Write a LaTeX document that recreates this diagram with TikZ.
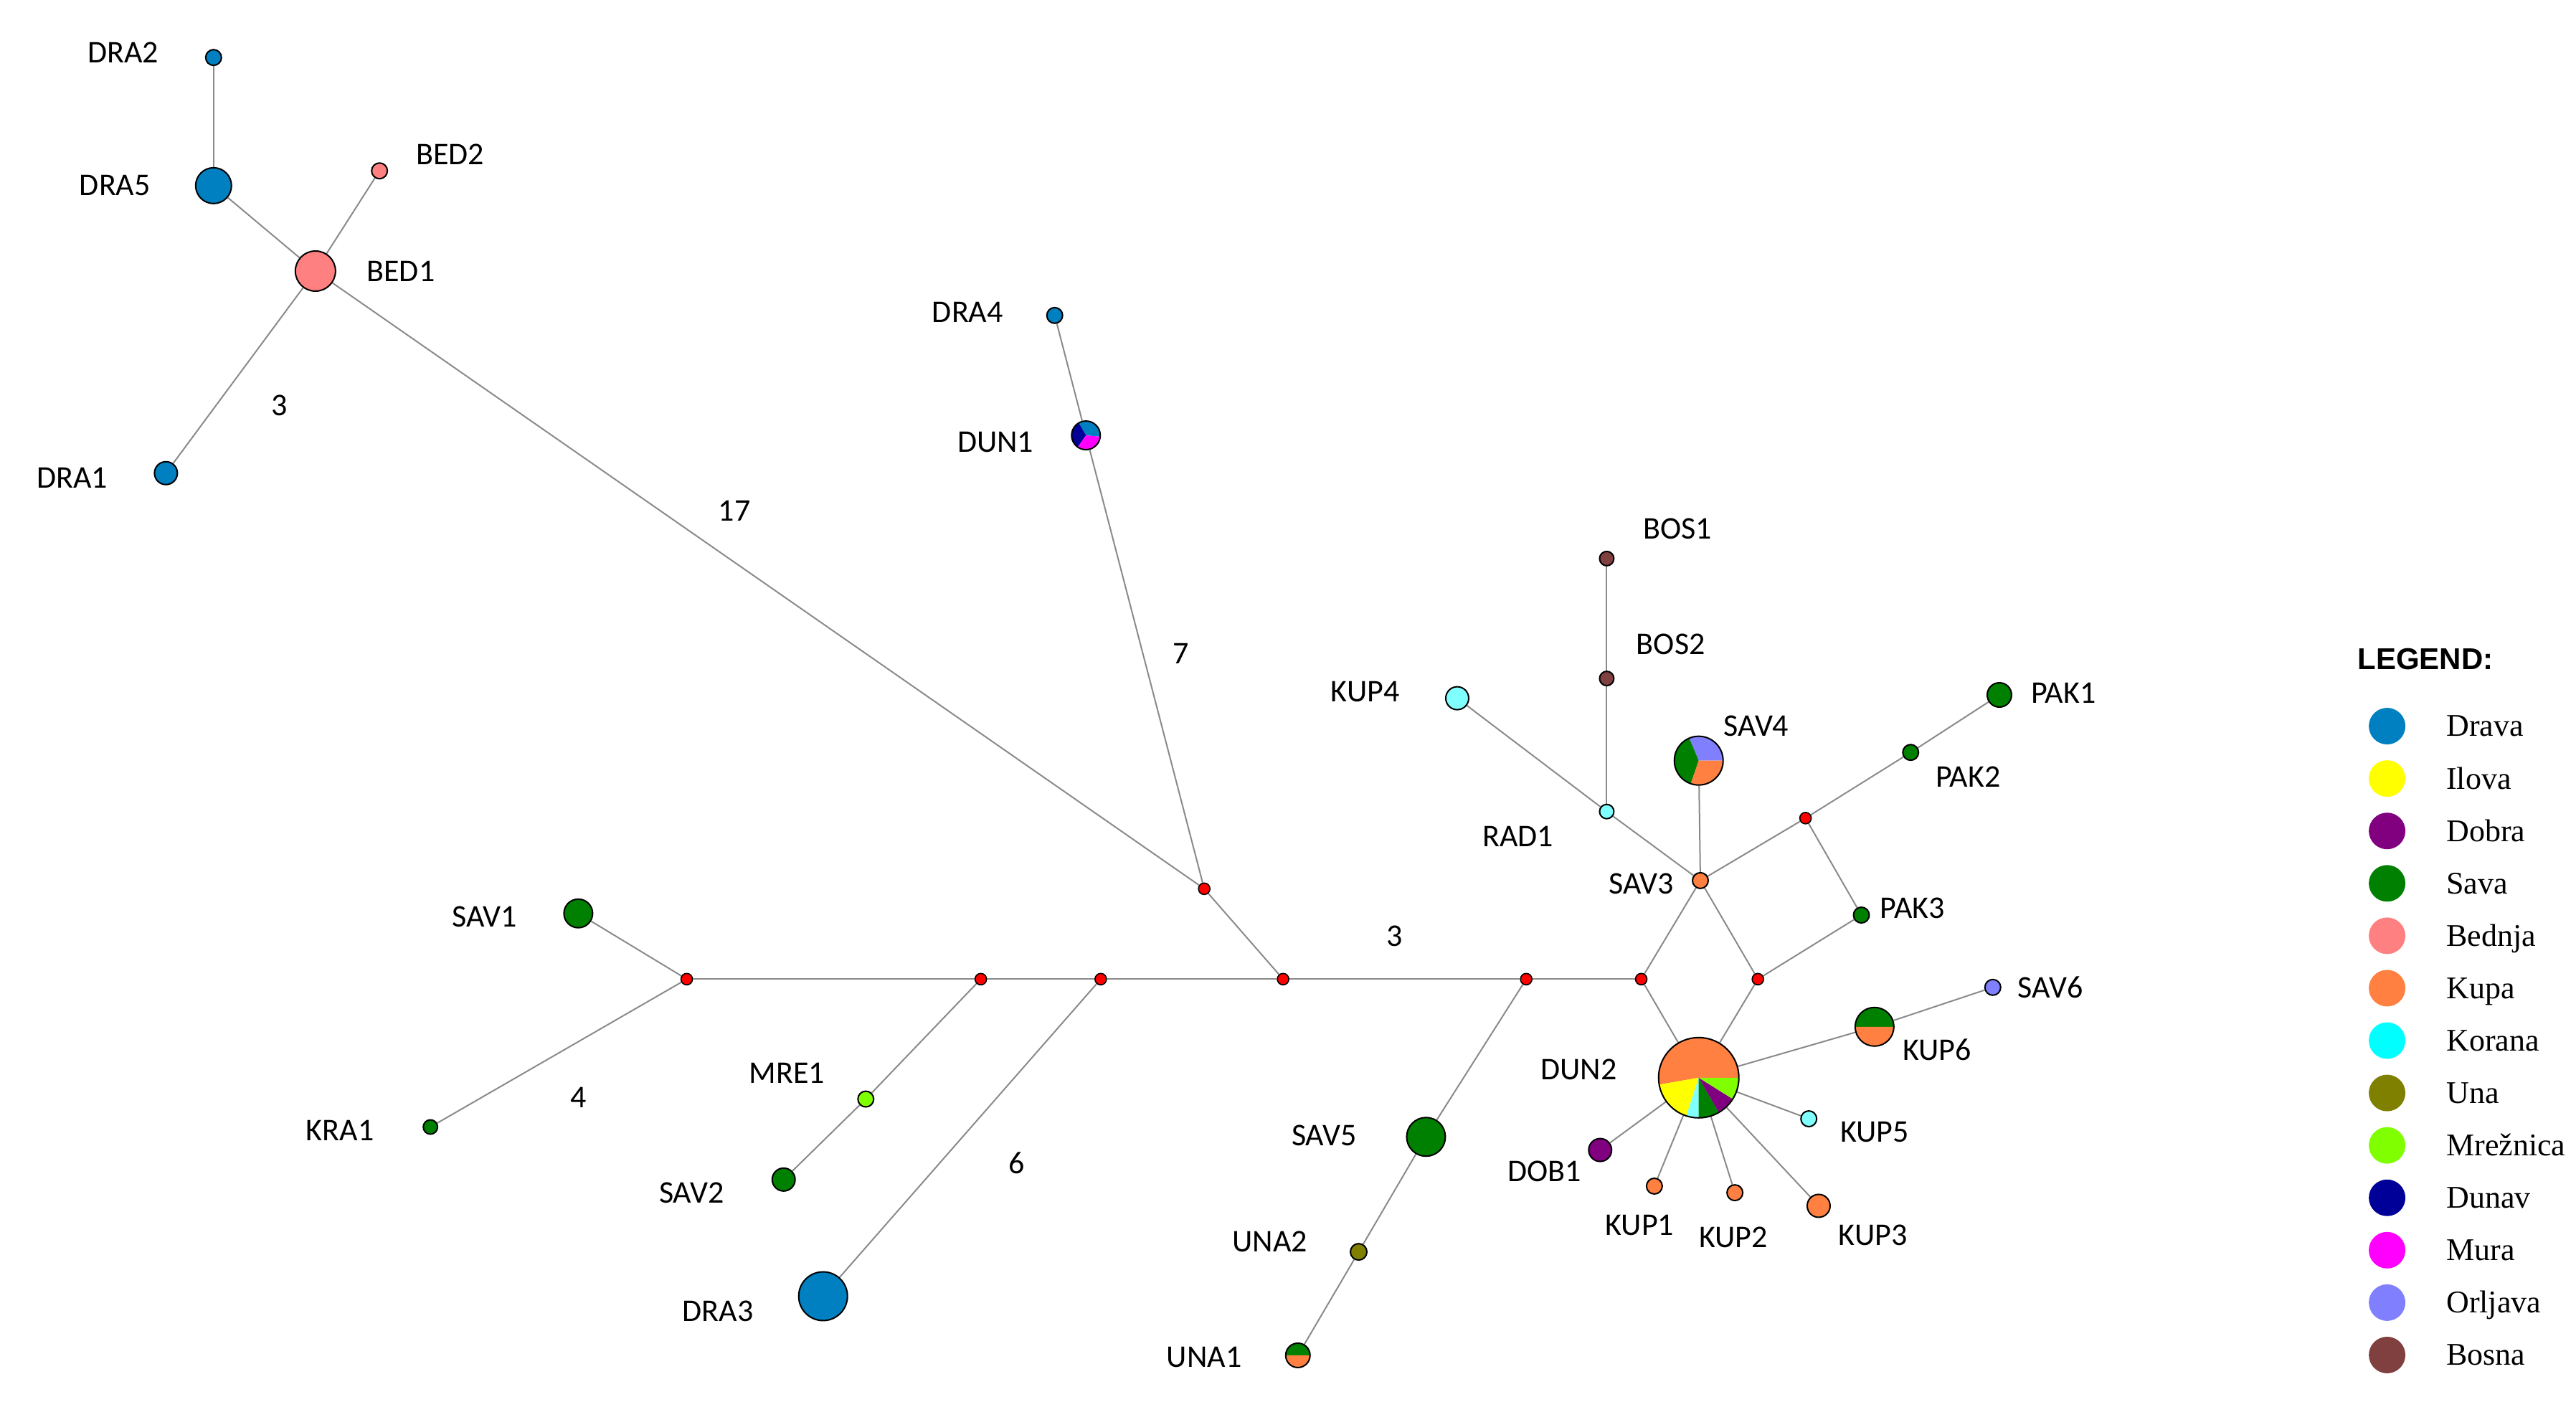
\documentclass[tikz,border=0pt]{standalone}
\usepackage{fontspec}
\setmainfont{Carlito}
\newfontfamily\legserif{Liberation Serif}
\newfontfamily\legsans{Liberation Sans}
\usetikzlibrary{backgrounds}
\definecolor{cDrava}{HTML}{0080C0}
\definecolor{cIlova}{HTML}{FFFF00}
\definecolor{cDobra}{HTML}{800080}
\definecolor{cSava}{HTML}{008000}
\definecolor{cBednja}{HTML}{FF8080}
\definecolor{cKupa}{HTML}{FF8040}
\definecolor{cKorana}{HTML}{00FFFF}
\definecolor{cKoranaL}{HTML}{80FFFF}
\definecolor{cUna}{HTML}{808000}
\definecolor{cMreznica}{HTML}{80FF00}
\definecolor{cDunav}{HTML}{000099}
\definecolor{cMura}{HTML}{FF00FF}
\definecolor{cOrljava}{HTML}{8080FF}
\definecolor{cBosna}{HTML}{804040}
\definecolor{cEdge}{HTML}{8A8A8A}
\newcommand\hapslice[5]{\fill[#5] (#1) -- ++(#3:#2) arc[start angle=#3, end angle=#4, radius=#2] -- cycle;}
\tikzset{
  hap/.style={circle, draw=black, line width=2pt, inner sep=0pt},
  mv/.style={circle, draw=black, line width=1.6pt, fill=red, inner sep=0pt, minimum size=16pt},
  lbl/.style={font=\fontsize{44}{52}\selectfont, inner sep=0pt, anchor=center},
  edge/.style={draw=cEdge, line width=2pt},
  legdot/.style={circle, inner sep=0pt, minimum size=51pt},
  legtxt/.style={font=\legserif\fontsize{44}{52}\selectfont, inner sep=0pt, anchor=base west}
}
\begin{document}
\begin{tikzpicture}[x=2.29082pt, y=-2.29082pt]
\useasboundingbox (0,0) rectangle (1568,853.4);

% ---- haplotypes (single colour) ----
\node[hap, fill=cDrava, minimum size=22pt] (DRA2) at (130,35) {};
\node[hap, fill=cDrava, minimum size=50pt] (DRA5) at (130,113) {};
\node[hap, fill=cBednja, minimum size=22pt] (BED2) at (231,104) {};
\node[hap, fill=cBednja, minimum size=56pt] (BED1) at (192,165) {};
\node[hap, fill=cDrava, minimum size=32pt] (DRA1) at (101,288) {};
\node[hap, fill=cDrava, minimum size=22pt] (DRA4) at (642,192) {};
\node[hap, fill=cBosna, minimum size=20pt] (BOS1) at (978,340) {};
\node[hap, fill=cBosna, minimum size=20pt] (BOS2) at (978,413) {};
\node[hap, fill=cKoranaL, minimum size=32pt] (KUP4) at (887,425) {};
\node[hap, fill=cKoranaL, minimum size=20pt] (RAD1) at (978,494) {};
\node[hap, fill=cSava, minimum size=34pt] (PAK1) at (1217,423) {};
\node[hap, fill=cSava, minimum size=22pt] (PAK2) at (1163,458) {};
\node[hap, fill=cKupa, minimum size=22pt] (SAV3) at (1035,536) {};
\node[hap, fill=cSava, minimum size=22pt] (PAK3) at (1133,557) {};
\node[hap, fill=cOrljava, minimum size=22pt] (SAV6) at (1213,601) {};
\node[hap, fill=cKoranaL, minimum size=22pt] (KUP5) at (1101,681) {};
\node[hap, fill=cDobra, minimum size=32pt] (DOB1) at (974,700) {};
\node[hap, fill=cKupa, minimum size=22pt] (KUP1) at (1007,722) {};
\node[hap, fill=cKupa, minimum size=22pt] (KUP2) at (1056,726) {};
\node[hap, fill=cKupa, minimum size=32pt] (KUP3) at (1107,734) {};
\node[hap, fill=cSava, minimum size=54pt] (SAV5) at (868,692) {};
\node[hap, fill=cUna, minimum size=23pt] (UNA2) at (827,762) {};
\node[hap, fill=cSava, minimum size=40pt] (SAV1) at (352,556) {};
\node[hap, fill=cSava, minimum size=20pt] (KRA1) at (262,686) {};
\node[hap, fill=cMreznica, minimum size=22pt] (MRE1) at (527,669) {};
\node[hap, fill=cSava, minimum size=32pt] (SAV2) at (477,718) {};
\node[hap, fill=cDrava, minimum size=68pt] (DRA3) at (501,789) {};

% ---- haplotypes (pie charts) ----
\coordinate (dun1c) at (661,265);
\hapslice{dun1c}{20pt}{-5}{120}{cDrava}
\hapslice{dun1c}{20pt}{120}{235}{cDunav}
\hapslice{dun1c}{20pt}{235}{355}{cMura}
\node[hap, minimum size=40pt] (DUN1) at (dun1c) {};

\coordinate (sav4c) at (1034,463);
\hapslice{sav4c}{34pt}{0}{113}{cOrljava}
\hapslice{sav4c}{34pt}{113}{251}{cSava}
\hapslice{sav4c}{34pt}{251}{360}{cKupa}
\node[hap, minimum size=68pt] (SAV4) at (sav4c) {};

\coordinate (kup6c) at (1141,625);
\hapslice{kup6c}{27pt}{0}{180}{cSava}
\hapslice{kup6c}{27pt}{180}{360}{cKupa}
\node[hap, minimum size=54pt] (KUP6) at (kup6c) {};

\coordinate (una1c) at (790,825);
\hapslice{una1c}{17pt}{0}{180}{cSava}
\hapslice{una1c}{17pt}{180}{360}{cKupa}
\node[hap, minimum size=34pt] (UNA1) at (una1c) {};

\coordinate (dun2c) at (1034,656);
\hapslice{dun2c}{56pt}{0}{190}{cKupa}
\hapslice{dun2c}{56pt}{190}{252}{cIlova}
\hapslice{dun2c}{56pt}{252}{270}{cKoranaL}
\hapslice{dun2c}{56pt}{270}{300}{cSava}
\hapslice{dun2c}{56pt}{300}{328}{cDobra}
\hapslice{dun2c}{56pt}{328}{360}{cMreznica}
\node[hap, minimum size=112pt] (DUN2) at (dun2c) {};

% ---- median vectors ----
\node[mv] (m1) at (733,541) {};
\node[mv] (m2) at (781,596) {};
\node[mv] (m3) at (418,596) {};
\node[mv] (m4) at (597,596) {};
\node[mv] (m5) at (670,596) {};
\node[mv] (m6) at (929,596) {};
\node[mv] (m7) at (999,596) {};
\node[mv] (m8) at (1099,498) {};
\node[mv] (m9) at (1070,596) {};

% ---- connectors ----
\begin{scope}[on background layer]
\draw[edge] (DRA2) -- (DRA5);
\draw[edge] (DRA5) -- (BED1);
\draw[edge] (BED2) -- (BED1);
\draw[edge] (BED1) -- (DRA1);
\draw[edge] (BED1) -- (m1);
\draw[edge] (DRA4) -- (DUN1);
\draw[edge] (DUN1) -- (m1);
\draw[edge] (m1) -- (m2);
\draw[edge] (m3) -- (m4);
\draw[edge] (m4) -- (m5);
\draw[edge] (m5) -- (m2);
\draw[edge] (m2) -- (m6);
\draw[edge] (m6) -- (m7);
\draw[edge] (m3) -- (SAV1);
\draw[edge] (m3) -- (KRA1);
\draw[edge] (m4) -- (MRE1);
\draw[edge] (MRE1) -- (SAV2);
\draw[edge] (m5) -- (DRA3);
\draw[edge] (m6) -- (SAV5);
\draw[edge] (SAV5) -- (UNA2);
\draw[edge] (UNA2) -- (UNA1);
\draw[edge] (m7) -- (SAV3);
\draw[edge] (m7) -- (DUN2);
\draw[edge] (SAV3) -- (RAD1);
\draw[edge] (RAD1) -- (KUP4);
\draw[edge] (RAD1) -- (BOS2);
\draw[edge] (BOS2) -- (BOS1);
\draw[edge] (SAV3) -- (SAV4);
\draw[edge] (SAV3) -- (m8);
\draw[edge] (m8) -- (PAK2);
\draw[edge] (PAK2) -- (PAK1);
\draw[edge] (m8) -- (PAK3);
\draw[edge] (SAV3) -- (m9);
\draw[edge] (m9) -- (PAK3);
\draw[edge] (m9) -- (DUN2);
\draw[edge] (DUN2) -- (KUP6);
\draw[edge] (KUP6) -- (SAV6);
\draw[edge] (DUN2) -- (KUP5);
\draw[edge] (DUN2) -- (DOB1);
\draw[edge] (DUN2) -- (KUP1);
\draw[edge] (DUN2) -- (KUP2);
\draw[edge] (DUN2) -- (KUP3);
\end{scope}

% ---- labels ----
\node[lbl] (tDRA2) at (75,32) {DRA2};
\node[lbl] (tDRA5) at (70,113) {DRA5};
\node[lbl] (tBED2) at (274,94) {BED2};
\node[lbl] (tBED1) at (244,165) {BED1};
\node[lbl] (tDRA1) at (44,291) {DRA1};
\node[lbl] (n3a) at (170,247) {3};
\node[lbl] (n17) at (447,311) {17};
\node[lbl] (tDRA4) at (589,190) {DRA4};
\node[lbl] (tDUN1) at (606,269) {DUN1};
\node[lbl] (n7) at (719,398) {7};
\node[lbl] (tBOS1) at (1021,322) {BOS1};
\node[lbl] (tBOS2) at (1017,392) {BOS2};
\node[lbl] (tKUP4) at (831,421) {KUP4};
\node[lbl] (tSAV4) at (1069,442) {SAV4};
\node[lbl] (tPAK1) at (1256,422) {PAK1};
\node[lbl] (tPAK2) at (1198,473) {PAK2};
\node[lbl] (tRAD1) at (924,509) {RAD1};
\node[lbl] (tSAV3) at (999,538) {SAV3};
\node[lbl] (tPAK3) at (1164,553) {PAK3};
\node[lbl] (n3b) at (849,570) {3};
\node[lbl] (tSAV1) at (295,558) {SAV1};
\node[lbl] (tSAV6) at (1248,601) {SAV6};
\node[lbl] (tKUP6) at (1179,639) {KUP6};
\node[lbl] (tDUN2) at (961,651) {DUN2};
\node[lbl] (tMRE1) at (479,653) {MRE1};
\node[lbl] (tKRA1) at (207,688) {KRA1};
\node[lbl] (n4) at (352,668) {4};
\node[lbl] (tSAV5) at (806,691) {SAV5};
\node[lbl] (tKUP5) at (1141,689) {KUP5};
\node[lbl] (tDOB1) at (940,713) {DOB1};
\node[lbl] (tKUP1) at (998,746) {KUP1};
\node[lbl] (tKUP2) at (1055,753) {KUP2};
\node[lbl] (tKUP3) at (1140,752) {KUP3};
\node[lbl] (tSAV2) at (421,726) {SAV2};
\node[lbl] (n6) at (619,708) {6};
\node[lbl] (tUNA2) at (773,756) {UNA2};
\node[lbl] (tDRA3) at (437,798) {DRA3};
\node[lbl] (tUNA1) at (733,826) {UNA1};

% ---- legend ----
\node[font=\legsans\bfseries\fontsize{42}{50}\selectfont, inner sep=0pt, anchor=base west] (legtitle) at (1435,407.7) {LEGEND:};
\foreach \n/\c [count=\i from 0] in {Drava/cDrava, Ilova/cIlova, Dobra/cDobra, Sava/cSava, Bednja/cBednja, Kupa/cKupa, Korana/cKorana, Una/cUna, Mrežnica/cMreznica, Dunav/cDunav, Mura/cMura, Orljava/cOrljava, Bosna/cBosna}{
  \node[legdot, fill=\c] (legd\i) at (1453,{442+31.9*\i}) {};
  \node[legtxt] (legt\i) at (1489,{448.3+31.9*\i}) {\n};
}
\end{tikzpicture}
\end{document}
